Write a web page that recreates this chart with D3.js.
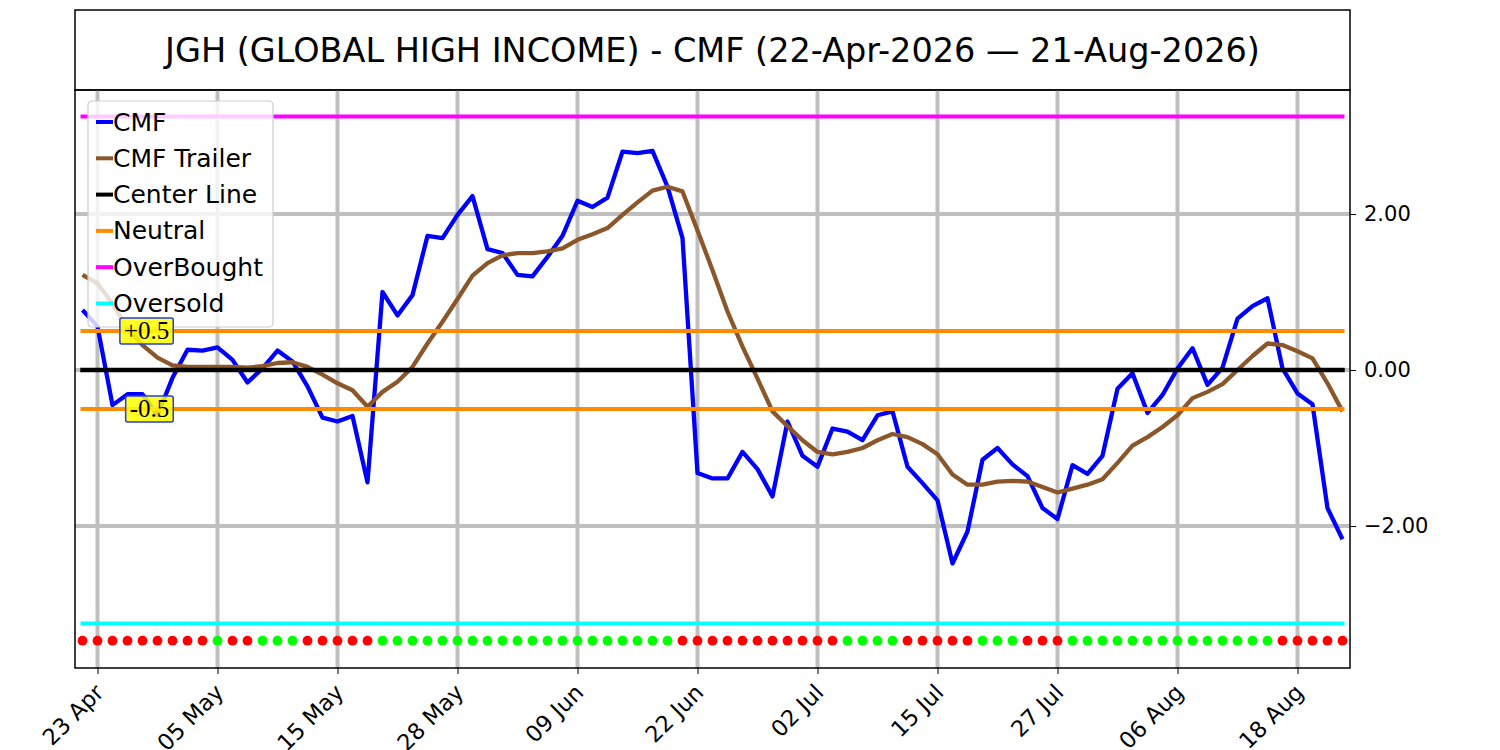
<!DOCTYPE html>
<html lang="en">
  <head>
    <meta charset="utf-8">
    <title>JGH CMF</title>
    <script src="https://d3js.org/d3.v7.js"></script>
    <style>
      body { margin: 0; background: #fff; overflow: hidden; }
      svg { display: block; }
      text { font-family: "DejaVu Sans", sans-serif; }
    </style>
  </head>
  <body>
    <script>
  // trading days shown on the x axis (index based, no gaps)
  var dates = [
    "22 Apr","23 Apr","24 Apr","27 Apr","28 Apr","29 Apr","30 Apr",
    "01 May","04 May","05 May","06 May","07 May","08 May","11 May","12 May","13 May","14 May","15 May",
    "18 May","19 May","20 May","21 May","22 May","26 May","27 May","28 May","29 May",
    "01 Jun","02 Jun","03 Jun","04 Jun","05 Jun","08 Jun","09 Jun","10 Jun","11 Jun","12 Jun",
    "15 Jun","16 Jun","17 Jun","18 Jun","22 Jun","23 Jun","24 Jun","25 Jun","26 Jun","29 Jun","30 Jun",
    "01 Jul","02 Jul","06 Jul","07 Jul","08 Jul","09 Jul","10 Jul","13 Jul","14 Jul","15 Jul","16 Jul","17 Jul",
    "20 Jul","21 Jul","22 Jul","23 Jul","24 Jul","27 Jul","28 Jul","29 Jul","30 Jul","31 Jul",
    "03 Aug","04 Aug","05 Aug","06 Aug","07 Aug","10 Aug","11 Aug","12 Aug","13 Aug","14 Aug",
    "17 Aug","18 Aug","19 Aug","20 Aug","21 Aug"
  ];

  var cmf = [
    0.77, 0.56, -0.45, -0.31, -0.31, -0.58, -0.10, 0.26, 0.25, 0.29,
    0.13, -0.16, 0.02, 0.25, 0.11, -0.21, -0.61, -0.66, -0.59, -1.44,
    1.00, 0.70, 0.96, 1.72, 1.69, 1.99, 2.23, 1.55, 1.50, 1.22,
    1.20, 1.45, 1.72, 2.17, 2.09, 2.21, 2.80, 2.78, 2.81, 2.35,
    1.69, -1.32, -1.39, -1.39, -1.05, -1.27, -1.62, -0.66, -1.10, -1.24,
    -0.75, -0.79, -0.90, -0.58, -0.53, -1.24, -1.45, -1.67, -2.48, -2.07,
    -1.15, -1.00, -1.21, -1.36, -1.77, -1.91, -1.22, -1.33, -1.10, -0.24,
    -0.04, -0.55, -0.32, 0.02, 0.28, -0.19, 0.03, 0.66, 0.82, 0.92,
    0.02, -0.30, -0.44, -1.77, -2.17
  ];

  var trailer = [
    1.22, 1.11, 0.85, 0.53, 0.32, 0.16, 0.06, 0.04, 0.04, 0.04,
    0.04, 0.03, 0.05, 0.09, 0.10, 0.04, -0.06, -0.17, -0.26, -0.47,
    -0.28, -0.15, 0.04, 0.34, 0.62, 0.91, 1.21, 1.37, 1.47, 1.50,
    1.50, 1.52, 1.56, 1.67, 1.74, 1.82, 1.99, 2.15, 2.30, 2.35,
    2.29, 1.79, 1.28, 0.75, 0.30, -0.11, -0.53, -0.72, -0.90, -1.05,
    -1.08, -1.05, -1.00, -0.90, -0.82, -0.86, -0.95, -1.08, -1.34, -1.47,
    -1.47, -1.43, -1.42, -1.43, -1.50, -1.57, -1.52, -1.47, -1.40, -1.19,
    -0.97, -0.86, -0.73, -0.58, -0.36, -0.28, -0.18, 0.00, 0.18, 0.34,
    0.32, 0.24, 0.15, -0.17, -0.53
  ];

  // 1 = green dot, 0 = red dot
  var signal = [
    0,0,0,0,0,0,0,0,0,1, 0,0,1,1,1,0,0,0,0,0,
    1,1,1,1,1,1,1,1,1,1, 1,1,1,1,1,1,1,1,1,1,
    0,0,0,0,0,0,0,0,0,0, 0,1,1,1,1,0,0,0,0,0,
    1,1,1,0,0,0,1,1,1,1, 1,1,1,1,1,1,1,1,1,1,
    0,0,0,0,0
  ];

  var tickLabels = ["23 Apr","05 May","15 May","28 May","09 Jun","22 Jun","02 Jul","15 Jul","27 Jul","06 Aug","18 Aug"];
  var yTicks = [-2, 0, 2];

  var levels = [
    {name: "Center Line", value: 0,     color: "#000000"},
    {name: "Neutral",     value: 0.5,   color: "#ff8c00"},
    {name: "Neutral",     value: -0.5,  color: "#ff8c00"},
    {name: "OverBought",  value: 3.25,  color: "#ff00ff"},
    {name: "Oversold",    value: -3.25, color: "#00ffff"}
  ];
  var dotLevel = -3.47;

  var legendItems = [
    {name: "CMF", color: "#0000ff"},
    {name: "CMF Trailer", color: "#8b572a"},
    {name: "Center Line", color: "#000000"},
    {name: "Neutral", color: "#ff8c00"},
    {name: "OverBought", color: "#ff00ff"},
    {name: "Oversold", color: "#00ffff"}
  ];

  var w = 1500;
  var h = 750;
  var margin = {top: 90, right: 150, bottom: 82, left: 75};
  var innerWidth = w - margin.left - margin.right;
  var innerHeight = h - margin.top - margin.bottom;

  var xScale = d3.scaleLinear()
    .domain([-0.5, dates.length - 0.5])
    .range([0, innerWidth]);

  var yScale = d3.scaleLinear()
    .domain([-3.82, 3.59])
    .range([innerHeight, 0]);

  var svg = d3.select("body")
    .append("svg")
    .attr("width", w)
    .attr("height", h);

  svg.append("rect")
    .attr("width", w).attr("height", h)
    .attr("fill", "white");

  // title box
  svg.append("rect")
    .attr("x", margin.left).attr("y", 10)
    .attr("width", innerWidth).attr("height", margin.top - 10)
    .attr("fill", "white")
    .attr("stroke", "black")
    .attr("stroke-width", 1.5);

  svg.append("text")
    .attr("x", margin.left + innerWidth / 2)
    .attr("y", 50)
    .attr("text-anchor", "middle")
    .attr("dominant-baseline", "central")
    .attr("font-size", 33.5)
    .text("JGH (GLOBAL HIGH INCOME) - CMF (22-Apr-2026 \u2014 21-Aug-2026)");

  var g = svg.append("g")
    .attr("transform", "translate(" + margin.left + "," + margin.top + ")");

  g.append("clipPath").attr("id", "plotclip")
    .append("rect").attr("width", innerWidth).attr("height", innerHeight);

  var tickIdx = tickLabels.map(function (t) { return dates.indexOf(t); });

  // grid
  var grid = g.append("g").attr("clip-path", "url(#plotclip)");
  grid.selectAll(".vgrid")
    .data(tickIdx)
    .enter().append("line")
    .attr("x1", function (d) { return xScale(d); })
    .attr("x2", function (d) { return xScale(d); })
    .attr("y1", 0).attr("y2", innerHeight)
    .attr("stroke", "#bfbfbf").attr("stroke-width", 4);
  grid.selectAll(".hgrid")
    .data(yTicks)
    .enter().append("line")
    .attr("x1", 0).attr("x2", innerWidth)
    .attr("y1", function (d) { return yScale(d); })
    .attr("y2", function (d) { return yScale(d); })
    .attr("stroke", "#bfbfbf").attr("stroke-width", 4);

  var plot = g.append("g").attr("clip-path", "url(#plotclip)");

  var line = d3.line()
    .x(function (d, i) { return xScale(i); })
    .y(function (d) { return yScale(d); });

  plot.append("path")
    .datum(cmf)
    .attr("d", line)
    .attr("fill", "none")
    .attr("stroke", "#0000ff")
    .attr("stroke-width", 4.3)
    .attr("stroke-linejoin", "round");

  plot.append("path")
    .datum(trailer)
    .attr("d", line)
    .attr("fill", "none")
    .attr("stroke", "#8b572a")
    .attr("stroke-width", 4.3)
    .attr("stroke-linejoin", "round");

  plot.selectAll(".level")
    .data(levels)
    .enter().append("line")
    .attr("x1", xScale(0)).attr("x2", xScale(dates.length - 1))
    .attr("y1", function (d) { return yScale(d.value); })
    .attr("y2", function (d) { return yScale(d.value); })
    .attr("stroke", function (d) { return d.color; })
    .attr("stroke-width", function (d) { return d.value === 0 ? 4.5 : 4; })
    .attr("stroke-linecap", "square");

  plot.selectAll(".sig")
    .data(signal)
    .enter().append("circle")
    .attr("cx", function (d, i) { return xScale(i); })
    .attr("cy", yScale(dotLevel))
    .attr("r", 4.9)
    .attr("fill", function (d) { return d ? "#00ff00" : "#ff0000"; });

  // frame
  g.append("rect")
    .attr("width", innerWidth).attr("height", innerHeight)
    .attr("fill", "none").attr("stroke", "black").attr("stroke-width", 1.5);

  // axes
  var yAxis = d3.axisRight(yScale)
    .tickValues(yTicks)
    .tickFormat(d3.format(".2f"))
    .tickSize(6).tickPadding(8);

  var ya = g.append("g")
    .attr("transform", "translate(" + innerWidth + ",0)")
    .call(yAxis)
    .attr("font-size", 21)
    .attr("font-family", "DejaVu Sans");
  ya.select(".domain").remove();

  var xAxis = d3.axisBottom(xScale)
    .tickValues(tickIdx)
    .tickFormat(function (d) { return dates[d]; })
    .tickSize(6);

  var xa = g.append("g")
    .attr("transform", "translate(0," + innerHeight + ")")
    .call(xAxis)
    .attr("font-size", 22.5)
    .attr("font-family", "DejaVu Sans");
  xa.select(".domain").remove();
  xa.selectAll("text")
    .attr("text-anchor", "end")
    .attr("dy", "0.35em")
    .attr("transform", "translate(-5,14) rotate(-45)");

  // legend
  var lg = g.append("g").attr("transform", "translate(13,11)");
  lg.append("rect")
    .attr("width", 185).attr("height", 226)
    .attr("rx", 4)
    .attr("fill", "white").attr("fill-opacity", 0.8)
    .attr("stroke", "#cccccc").attr("stroke-width", 1.2);

  var rows = lg.selectAll(".row")
    .data(legendItems)
    .enter().append("g")
    .attr("transform", function (d, i) { return "translate(0," + (21 + i * 36.3) + ")"; });
  rows.append("line")
    .attr("x1", 8).attr("x2", 25)
    .attr("stroke", function (d) { return d.color; })
    .attr("stroke-width", 4);
  rows.append("text")
    .attr("x", 25)
    .attr("dominant-baseline", "central")
    .attr("font-size", 25)
    .text(function (d) { return d.name; });

  // +0.5 / -0.5 tags (drawn over the legend)
  var tags = [{text: "+0.5", value: 0.5}, {text: "-0.5", value: -0.5}];
  tags.forEach(function (t) {
    var tg = g.append("g");
    var right = xScale(6.05);
    var tx = tg.append("text")
      .attr("x", right - 4)
      .attr("y", yScale(t.value) + 8)
      .attr("text-anchor", "end")
      .style("font-family", "'Liberation Serif', 'DejaVu Serif', serif")
      .style("font-size", "25px")
      .text(t.text);
    var len = tx.node().getComputedTextLength();
    tg.insert("rect", "text")
      .attr("x", right - len - 8).attr("y", yScale(t.value) - 13)
      .attr("width", len + 8).attr("height", 26)
      .attr("fill", "#ffff00").attr("fill-opacity", 0.85)
      .attr("stroke", "#2a3fd6").attr("stroke-width", 1.5)
      .attr("rx", 2);
  });
    </script>
  </body>
</html>
